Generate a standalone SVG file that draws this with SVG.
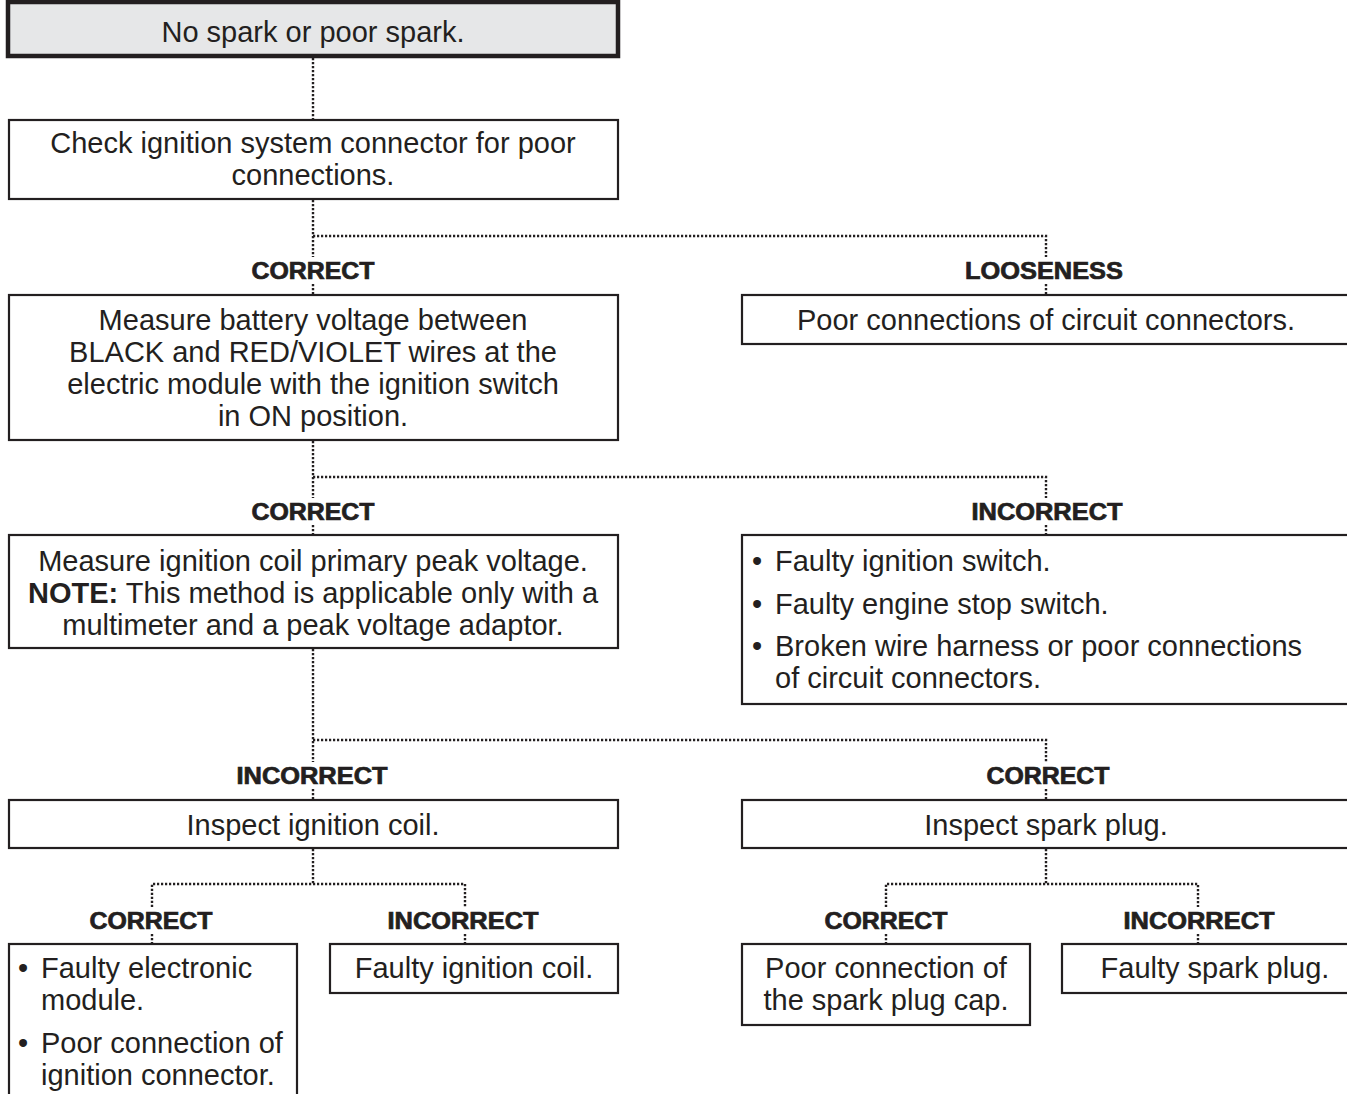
<svg xmlns="http://www.w3.org/2000/svg" width="1347" height="1094" viewBox="0 0 1347 1094">
<style>
.box{fill:#fff;stroke:#231f20;stroke-width:2.2}
.top{fill:#e6e7e8;stroke:#231f20;stroke-width:4.5}
.t{font-family:"Liberation Sans",Arial,sans-serif;font-size:29px;fill:#231f20}
.c{text-anchor:middle}
.lbl{font-family:"Liberation Sans",Arial,sans-serif;font-size:23px;font-weight:bold;fill:#231f20;stroke:#231f20;stroke-width:0.7;text-anchor:middle}
.dot{fill:none;stroke:#231f20;stroke-width:2.4;stroke-dasharray:2.2 1.8}
</style>
<rect width="1347" height="1094" fill="#fff"/>
<g id="connectors">
<path class="dot" d="M313 58V120"/>
<path class="dot" d="M313 200V257M313 236H1046V257M313 284V295M1046 284V295"/>
<path class="dot" d="M313 441V498M313 477H1046V498M313 525V535M1046 525V535"/>
<path class="dot" d="M313 649V762M313 740H1046V762M313 789V800M1046 789V800"/>
<path class="dot" d="M313 849V884M152 907V884H465V907M152 934V944M465 934V944"/>
<path class="dot" d="M1046 849V884M886 907V884H1198V907M886 934V944M1198 934V944"/>
</g>
<g id="labels">
<text class="lbl" x="313" y="279" textLength="123" lengthAdjust="spacingAndGlyphs">CORRECT</text>
<text class="lbl" x="1044" y="279" textLength="158" lengthAdjust="spacingAndGlyphs">LOOSENESS</text>
<text class="lbl" x="313" y="520" textLength="123" lengthAdjust="spacingAndGlyphs">CORRECT</text>
<text class="lbl" x="1047" y="520" textLength="151" lengthAdjust="spacingAndGlyphs">INCORRECT</text>
<text class="lbl" x="312" y="784" textLength="151" lengthAdjust="spacingAndGlyphs">INCORRECT</text>
<text class="lbl" x="1048" y="784" textLength="123" lengthAdjust="spacingAndGlyphs">CORRECT</text>
<text class="lbl" x="151" y="929" textLength="123" lengthAdjust="spacingAndGlyphs">CORRECT</text>
<text class="lbl" x="463" y="929" textLength="151" lengthAdjust="spacingAndGlyphs">INCORRECT</text>
<text class="lbl" x="886" y="929" textLength="123" lengthAdjust="spacingAndGlyphs">CORRECT</text>
<text class="lbl" x="1199" y="929" textLength="151" lengthAdjust="spacingAndGlyphs">INCORRECT</text>
</g>
<g id="n1">
<rect class="top" x="8" y="2" width="610" height="54"/>
<text class="t c" x="313" y="42">No spark or poor spark.</text>
</g>
<g id="n2">
<rect class="box" x="9" y="120" width="609" height="79"/>
<text class="t c" x="313" y="153">Check ignition system connector for poor</text>
<text class="t c" x="313" y="185">connections.</text>
</g>
<g id="n3">
<rect class="box" x="9" y="295" width="609" height="145"/>
<text class="t c" x="313" y="330">Measure battery voltage between</text>
<text class="t c" x="313" y="362">BLACK and RED/VIOLET wires at the</text>
<text class="t c" x="313" y="394">electric module with the ignition switch</text>
<text class="t c" x="313" y="426">in ON position.</text>
</g>
<g id="n4">
<rect class="box" x="742" y="295" width="610" height="49"/>
<text class="t c" x="1046" y="330">Poor connections of circuit connectors.</text>
</g>
<g id="n5">
<rect class="box" x="9" y="535" width="609" height="113"/>
<text class="t c" x="313" y="571">Measure ignition coil primary peak voltage.</text>
<text class="t c" x="313" y="603"><tspan font-weight="bold">NOTE:</tspan> This method is applicable only with a</text>
<text class="t c" x="313" y="635">multimeter and a peak voltage adaptor.</text>
</g>
<g id="n6">
<rect class="box" x="742" y="535" width="610" height="169"/>
<text class="t" x="752" y="571">•</text>
<text class="t" x="775" y="571">Faulty ignition switch.</text>
<text class="t" x="752" y="614">•</text>
<text class="t" x="775" y="614">Faulty engine stop switch.</text>
<text class="t" x="752" y="656">•</text>
<text class="t" x="775" y="656">Broken wire harness or poor connections</text>
<text class="t" x="775" y="688">of circuit connectors.</text>
</g>
<g id="n7">
<rect class="box" x="9" y="800" width="609" height="48"/>
<text class="t c" x="313" y="835">Inspect ignition coil.</text>
</g>
<g id="n8">
<rect class="box" x="742" y="800" width="610" height="48"/>
<text class="t c" x="1046" y="835">Inspect spark plug.</text>
</g>
<g id="n9">
<rect class="box" x="9" y="944" width="288" height="160"/>
<text class="t" x="18" y="978">•</text>
<text class="t" x="41" y="978">Faulty electronic</text>
<text class="t" x="41" y="1010">module.</text>
<text class="t" x="18" y="1053">•</text>
<text class="t" x="41" y="1053">Poor connection of</text>
<text class="t" x="41" y="1085">ignition connector.</text>
</g>
<g id="n10">
<rect class="box" x="330" y="944" width="288" height="49"/>
<text class="t c" x="474" y="978">Faulty ignition coil.</text>
</g>
<g id="n11">
<rect class="box" x="742" y="944" width="288" height="81"/>
<text class="t c" x="886" y="978">Poor connection of</text>
<text class="t c" x="886" y="1010">the spark plug cap.</text>
</g>
<g id="n12">
<rect class="box" x="1062" y="944" width="290" height="49"/>
<text class="t c" x="1215" y="978">Faulty spark plug.</text>
</g>
</svg>
